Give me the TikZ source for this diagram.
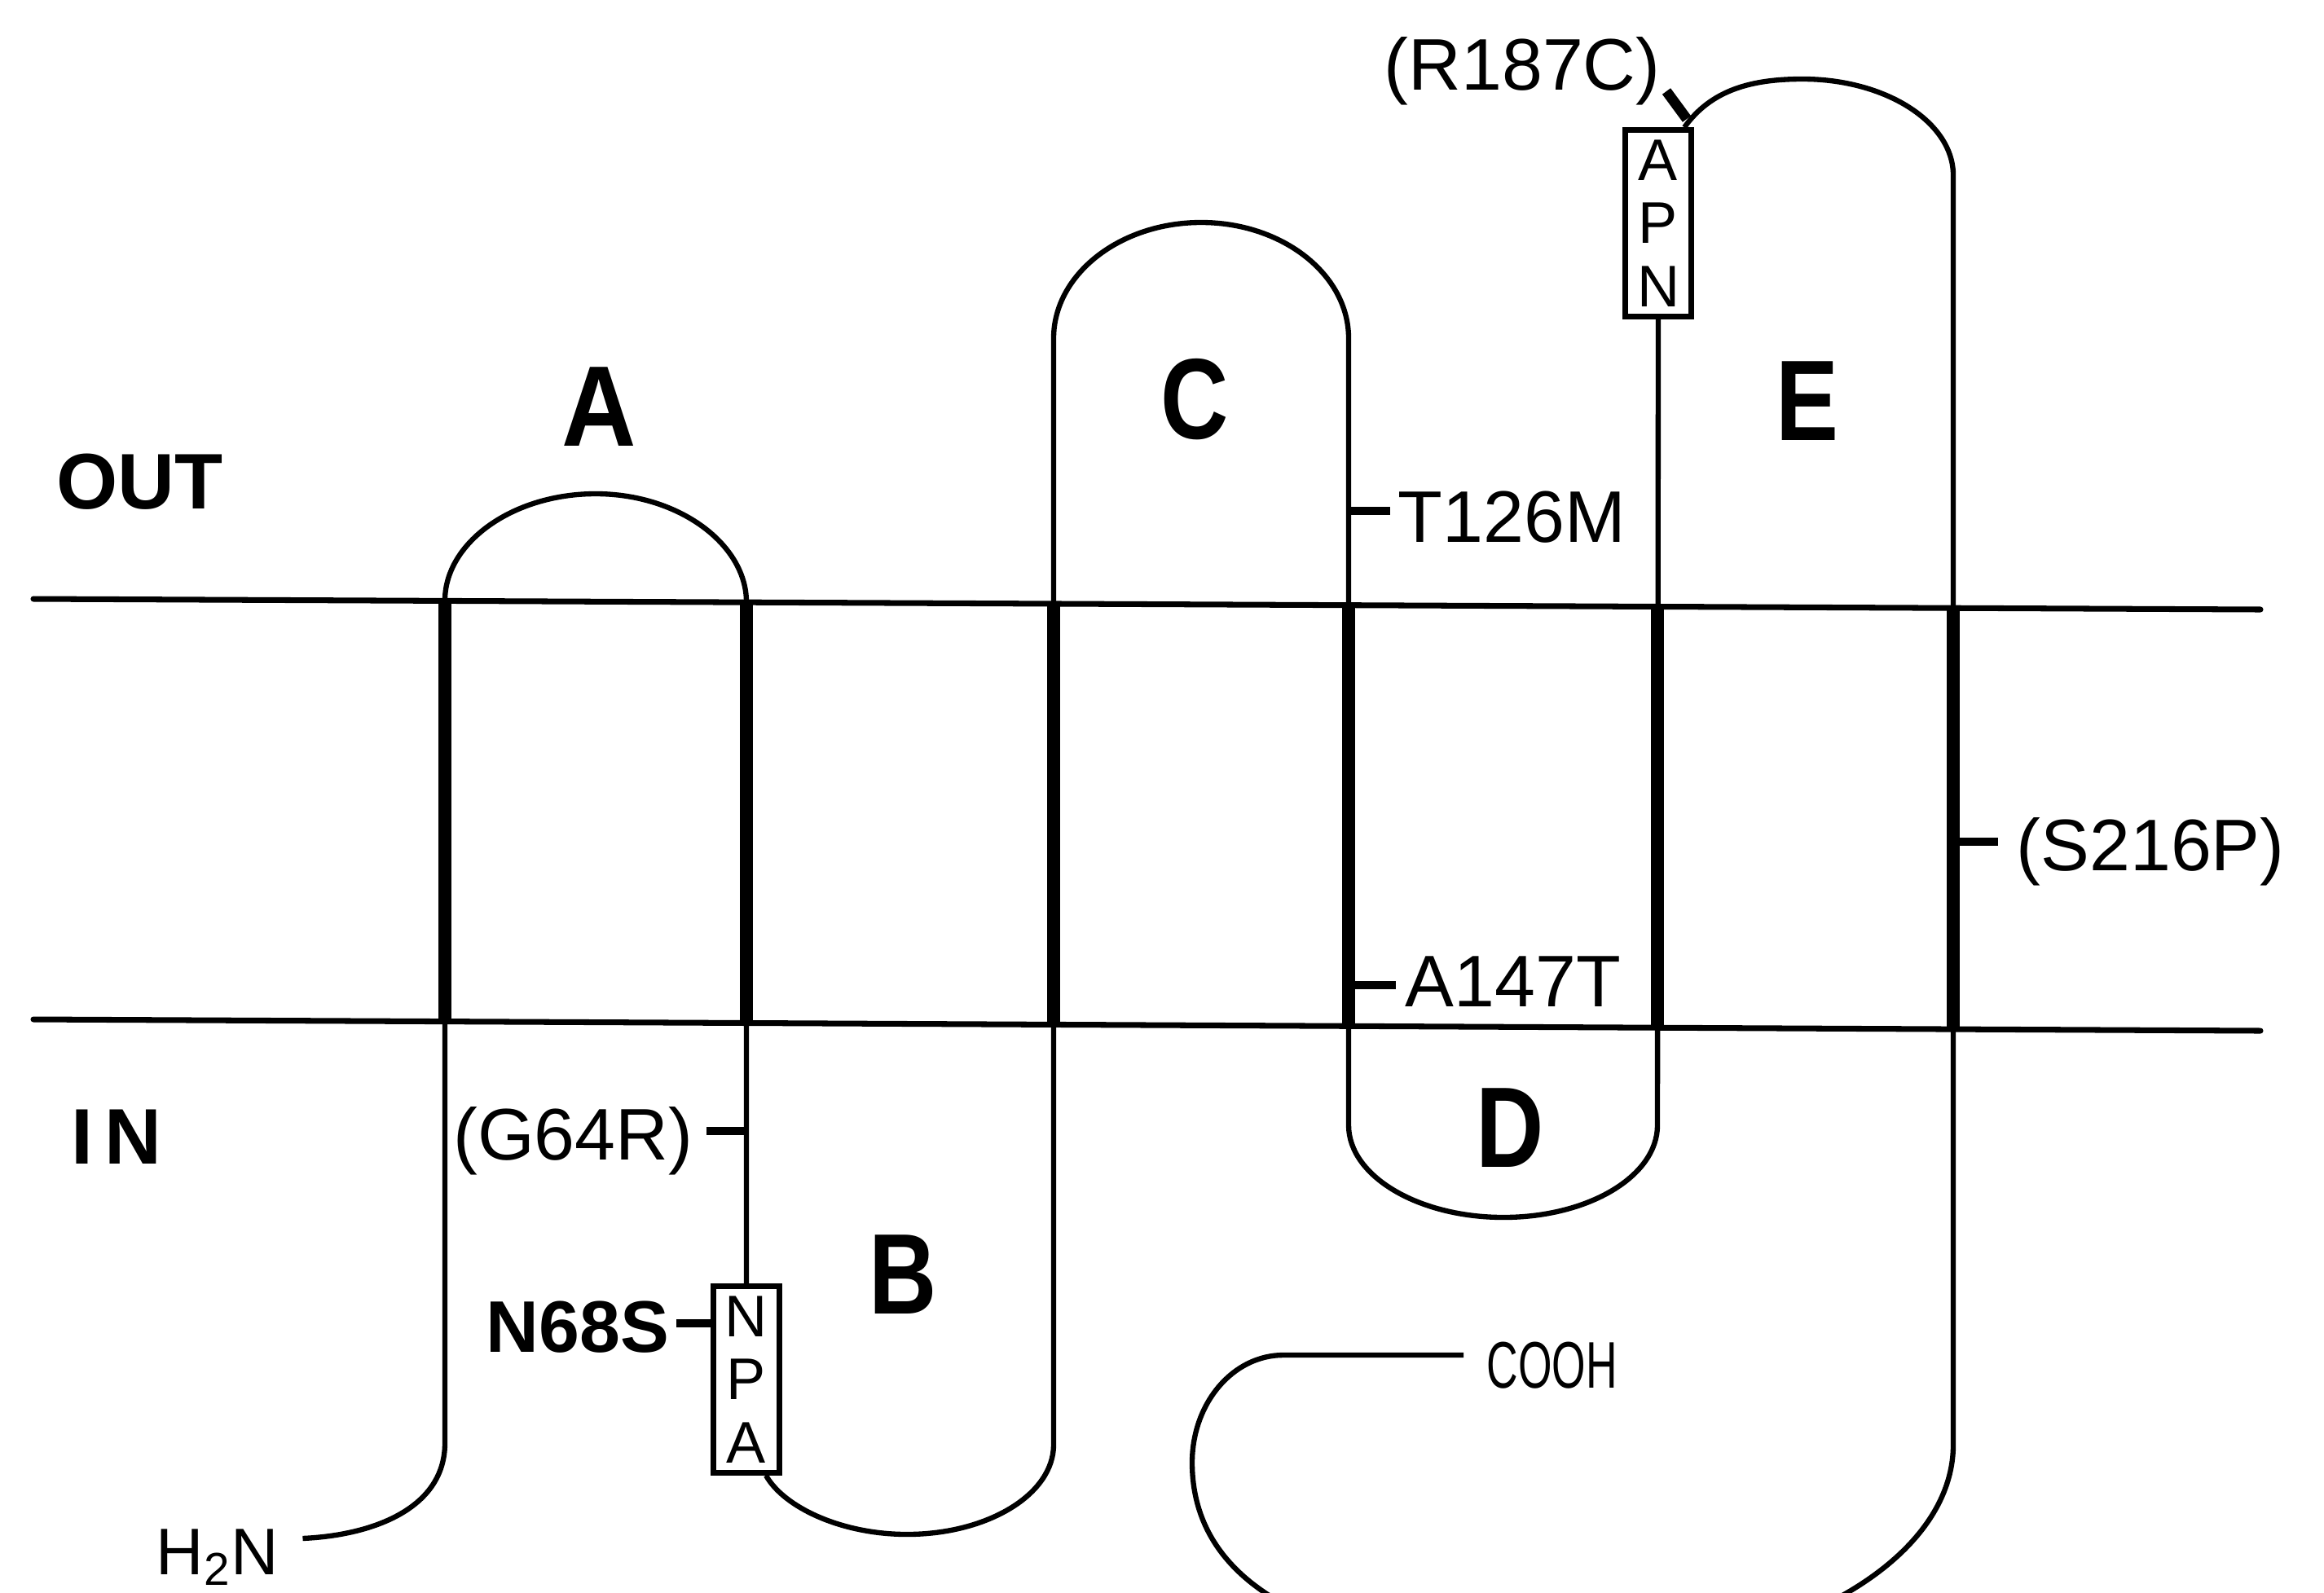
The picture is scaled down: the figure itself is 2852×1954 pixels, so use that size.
\documentclass[tikz,border=0pt]{standalone}
\usepackage{fontspec}
\setmainfont{Liberation Sans}
\usepackage{graphicx}
\begin{document}
\begin{tikzpicture}[x=0.01cm,y=-0.01cm,
  chain/.style={line width=1.8pt, line join=round},
  helix/.style={line width=4.5pt},
  membrane/.style={line width=2pt, line cap=round},
  tickmark/.style={line width=2.6pt},
  mut/.style={font=\fontsize{25.5}{30}\selectfont, inner sep=0pt},
  mutb/.style={font=\fontsize{25.5}{30}\selectfont\bfseries, inner sep=0pt},
  loopl/.style={font=\fontsize{40}{40}\selectfont\bfseries, inner sep=0pt},
  side/.style={font=\fontsize{27.5}{30}\selectfont\bfseries, inner sep=0pt},
  motif/.style={draw, line width=1.8pt, inner sep=0pt, minimum width=0.81cm,
    minimum height=2.29cm, align=center, fill=white,
    font=\fontsize{20.5}{22}\selectfont},
]
\useasboundingbox (0,0) rectangle (2852,1954);

% membrane
\coordinate (mtl) at (41,735);
\coordinate (mtr) at (2774,748);
\coordinate (mbl) at (41,1251);
\coordinate (mbr) at (2774,1265);
\draw[membrane] (mtl) -- (mtr);
\draw[membrane] (mbl) -- (mbr);

% side labels
\node[side, anchor=base west] (out) at (69,624) {OUT};
\node[side, anchor=base west] (in) at (87,1428) {I\kern4pt N};

% loop labels
\node[loopl, anchor=base] (la) at (735,547) {\scalebox{0.9}[1]{A}};
\node[loopl, anchor=base] (lb) at (1108,1612) {\scalebox{0.82}[1]{B}};
\node[loopl, anchor=base] (lc) at (1466,538) {\scalebox{0.82}[1]{C}};
\node[loopl, anchor=base] (ld) at (1853,1432) {\scalebox{0.82}[1]{D}};
\node[loopl, anchor=base] (le) at (2218,540) {\scalebox{0.82}[1]{E}};

% motif boxes
\node[motif] (npa) at (916,1693) {N\\P\\A};
\node[motif] (apn) at (2035,274) {A\\P\\N};

% termini labels
\node[font=\fontsize{23}{26}\selectfont, inner sep=0pt, anchor=base west] (h2n) at (191,1932) {H\textsubscript{2}N};
\node[font=\fontsize{23}{26}\selectfont, inner sep=0pt, anchor=base west] (cooh) at (1824,1703) {\scalebox{0.66}[1]{COOH}};

\begin{scope}
\clip (0,0) rectangle (2852,1954);
% chain: N-terminus, TM1, loop A, TM2 to NPA box
\draw[chain] ([xshift=0.29cm,yshift=0.44cm]h2n.base east) .. controls (460,1884) and (546,1850) .. (546,1771)
  -- (546,737) .. controls (546,666) and (629,606) .. (731,606)
  .. controls (833,606) and (916,668) .. (916,739) -- (npa.north);
% chain: NPA box, loop B, TM3, loop C, TM4, loop D, TM5 to APN box
\draw[chain] ([xshift=0.24cm]npa.south) .. controls (962,1850) and (1033,1883) .. (1113,1883)
  .. controls (1212,1883) and (1293,1834) .. (1293,1773)
  -- (1293,415) .. controls (1293,337) and (1374,273) .. (1474,273)
  .. controls (1574,273) and (1655,337) .. (1655,415)
  -- (1655,1381) .. controls (1655,1443) and (1740,1494) .. (1845,1494)
  .. controls (1950,1494) and (2034,1443) .. (2034,1381) -- (apn.south);
% chain: APN box, loop E, TM6, C-terminus
\draw[chain] ([xshift=0.32cm]apn.north) .. controls (2100,110) and (2150,97) .. (2212,97)
  .. controls (2314,97) and (2397,150) .. (2397,215)
  -- (2397,1773) .. controls (2397,1918) and (2188,2035) .. (1930,2035)
  .. controls (1650,2035) and (1463,1960) .. (1463,1795)
  .. controls (1463,1722) and (1513,1663) .. (1575,1663)
  -- ([xshift=-0.28cm,yshift=0.4cm]cooh.base west);
\end{scope}

% transmembrane helices
\draw[helix] (546,737.4) -- (546,1253.6);
\draw[helix] (916,739.2) -- (916,1255.5);
\draw[helix] (1293,741) -- (1293,1257.4);
\draw[helix] (1655,742.7) -- (1655,1259.3);
\draw[helix] (2034,744.5) -- (2034,1261.2);
\draw[helix] (2397,746.2) -- (2397,1263.1);

% mutations
\node[mut, anchor=base west] (r187c) at (1698,110) {(R187C)};
\coordinate (r187ct) at (2070,146);
\draw[line width=3.6pt] (r187ct) -- (2045,112);

\node[mut, anchor=base east] (g64r) at (851,1423) {(G64R)};
\coordinate (g64rt) at (916,1388);
\draw[tickmark] (g64rt) -- (867,1388);

\node[mutb, anchor=base east] (n68s) at (822,1659) {N68S};
\draw[tickmark] (npa.west |- 0,1624) -- (830,1624);

\node[mut, anchor=base west] (t126m) at (1715,665) {T126M};
\coordinate (t126mt) at (1655,627);
\draw[tickmark] (t126mt) -- (1706,627);

\node[mut, anchor=base west] (a147t) at (1724,1235) {A147T};
\coordinate (a147tt) at (1655,1209);
\draw[tickmark] (a147tt) -- (1713,1209);

\node[mut, anchor=base west] (s216p) at (2474,1068) {(S216P)};
\coordinate (s216pt) at (2397,1033);
\draw[tickmark] (s216pt) -- (2452,1033);
\end{tikzpicture}
\end{document}
